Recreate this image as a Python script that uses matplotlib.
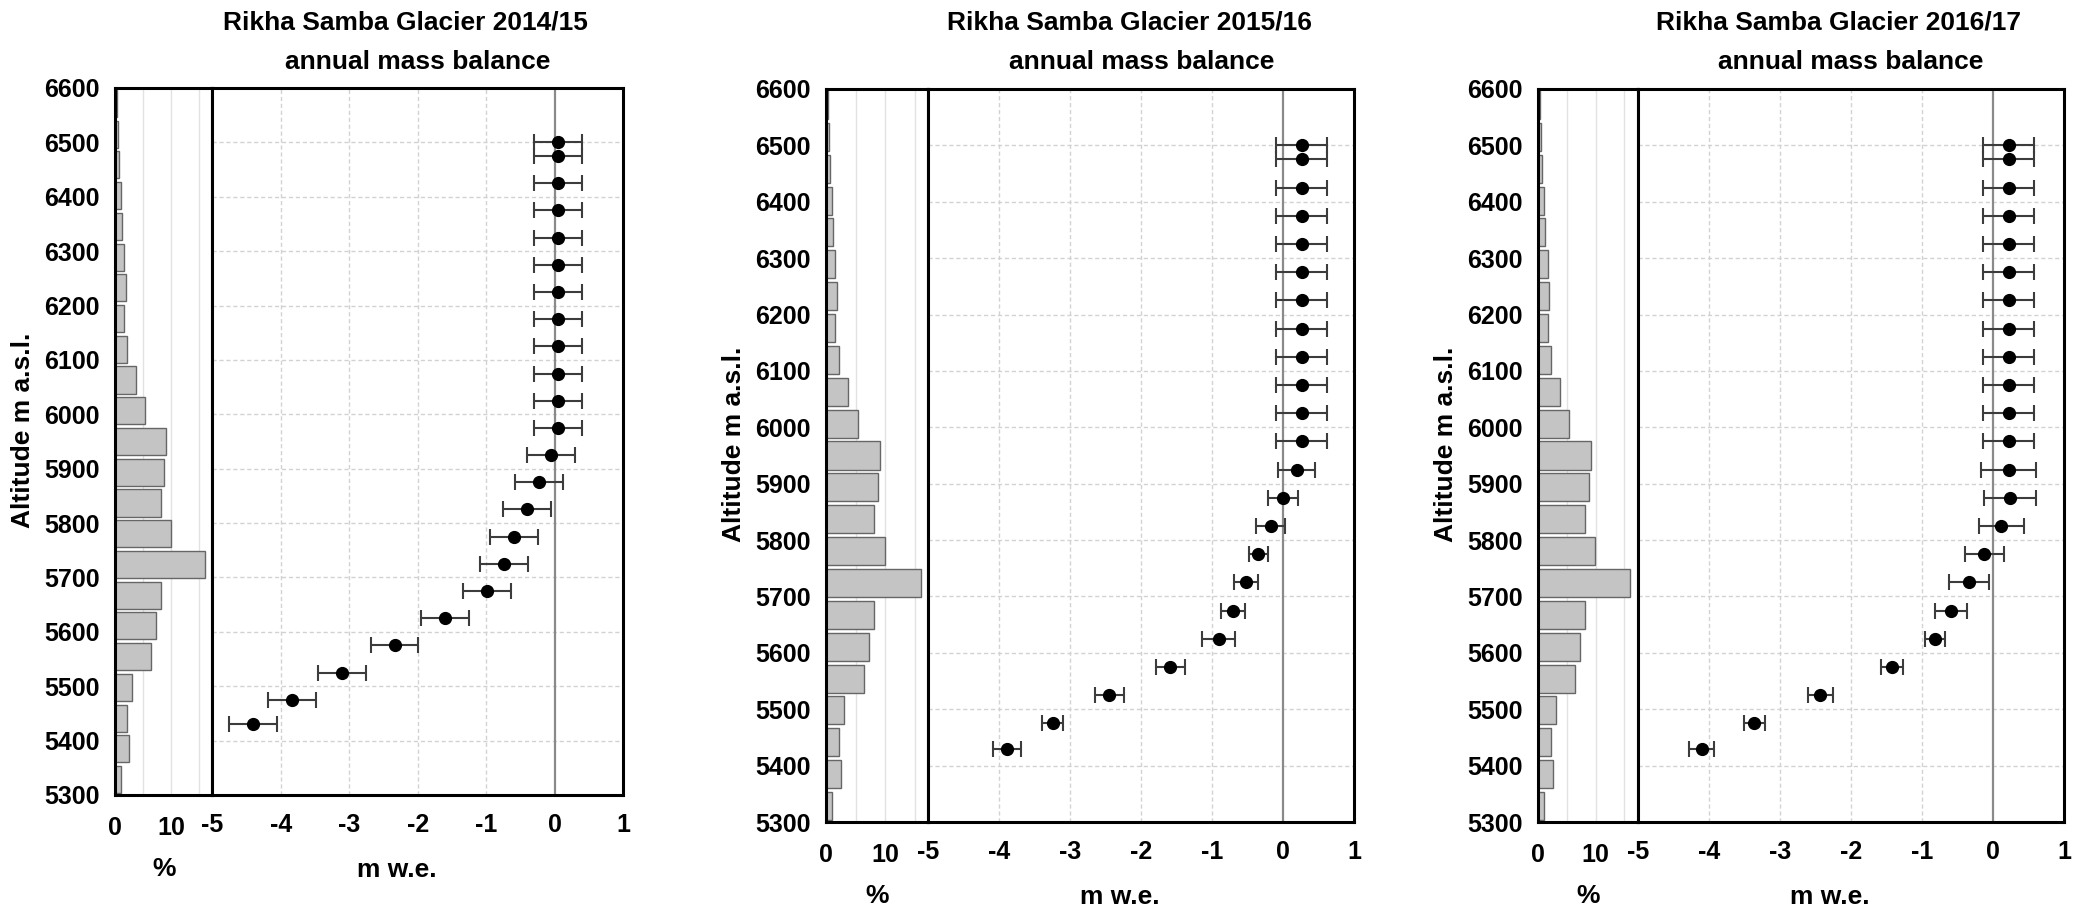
import numpy as np
import matplotlib
matplotlib.use("Agg")
import matplotlib.pyplot as plt

plt.rcParams['font.family'] = ['Liberation Sans', 'DejaVu Sans']
plt.rcParams['font.weight'] = 'bold'
plt.rcParams['axes.unicode_minus'] = False

# ------------------------------------------------------------
# data
# ------------------------------------------------------------
years = ["2014/15", "2015/16", "2016/17"]

# altitude of the mass balance points (m a.s.l.)
altitude = [6500, 6475, 6425, 6375, 6325, 6275, 6225, 6175, 6125, 6075, 6025,
            5975, 5925, 5875, 5825, 5775, 5725, 5675, 5625, 5575, 5525, 5475, 5430]

mb_1415 = [0.04] * 12 + [-0.05, -0.23, -0.40, -0.60, -0.74, -0.99, -1.60,
                         -2.34, -3.10, -3.83, -4.41]
err_1415 = [0.35] * 23

mb_1516 = [0.26] * 12 + [0.19, 0.0, -0.18, -0.35, -0.52, -0.71, -0.91,
                         -1.59, -2.45, -3.25, -3.89]
err_1516 = [0.36] * 12 + [0.26, 0.21, 0.21, 0.13, 0.17, 0.17, 0.23,
                          0.21, 0.20, 0.15, 0.20]

mb_1617 = [0.22] * 12 + [0.22, 0.24, 0.12, -0.12, -0.34, -0.59, -0.81,
                         -1.42, -2.43, -3.36, -4.10]
err_1617 = [0.36] * 12 + [0.39, 0.36, 0.32, 0.28, 0.28, 0.23, 0.14,
                          0.16, 0.18, 0.15, 0.18]

# area-altitude distribution (%), bottom band to top band
hypsometry = [1.0, 2.5, 2.2, 3.0, 6.4, 7.3, 8.2, 16.0, 9.9, 8.2, 8.8, 9.1,
              5.4, 3.7, 2.2, 1.6, 1.9, 1.6, 1.2, 1.0, 0.7, 0.5, 0.3]

mass_balance = [mb_1415, mb_1516, mb_1617]
errors = [err_1415, err_1516, err_1617]

# ------------------------------------------------------------
# layout (pixels of a 2093 x 915 canvas)
# ------------------------------------------------------------
W, H = 2093, 915
# hist left, divider, mass right, top, bottom
panels = [
  (115, 212.3, 623.3, 88, 795),
  (826, 928.3, 1354.3, 89, 822),
  (1538.4, 1637.7, 2064, 89, 822),
]

fig = plt.figure(figsize=(W / 100, H / 100), dpi=100)

def rect(x0, x1, y0, y1):
  return [x0 / W, 1 - y1 / H, (x1 - x0) / W, (y1 - y0) / H]

ALT_MIN, ALT_MAX = 5300, 6600
n_bands = len(hypsometry)
band = (ALT_MAX - ALT_MIN) / n_bands
band_centers = ALT_MIN + (np.arange(n_bands) + 0.5) * band

TICK_FS = 18
LABEL_FS = 19
SPINE_W = 2.2

for k, (xl, xd, xr, yt, yb) in enumerate(panels):
  ax_h = fig.add_axes(rect(xl, xd, yt, yb))
  ax_m = fig.add_axes(rect(xd, xr, yt, yb))

  # ---------------- hypsometry ----------------
  for g in (5, 10, 15):
    ax_h.axvline(g, color='#e2e2e2', lw=1.0, zorder=0)
  ax_h.barh(band_centers, hypsometry, height=band * 0.88,
            color='#c4c4c4', edgecolor='#666666', linewidth=1.0, zorder=2)
  ax_h.set_xlim(0, 17.3)
  ax_h.set_ylim(ALT_MIN, ALT_MAX)
  ax_h.set_yticks(range(ALT_MIN, ALT_MAX + 1, 100))
  ax_h.set_xticks([0, 10])
  ax_h.tick_params(axis='y', length=0, pad=11, labelsize=TICK_FS)
  ax_h.tick_params(axis='x', length=0, pad=15, labelsize=TICK_FS)

  # ---------------- mass balance ----------------
  for g in (-4, -3, -2, -1):
    ax_m.axvline(g, color='#d2d2d2', lw=1.0, ls=(0, (3, 2)), zorder=0)
  for g in range(5400, 6600, 100):
    ax_m.axhline(g, color='#d2d2d2', lw=1.0, ls=(0, (3, 2)), zorder=0)
  ax_m.axvline(0, color='#8a8a8a', lw=1.6, zorder=1)

  ax_m.errorbar(mass_balance[k], altitude, xerr=errors[k], fmt='o',
                color='black', markersize=8.5, ecolor='#3c3c3c',
                elinewidth=1.5, capsize=5.5, capthick=1.5, zorder=3)
  ax_m.set_xlim(-5, 1)
  ax_m.set_ylim(ALT_MIN, ALT_MAX)
  ax_m.set_xticks(range(-5, 2))
  ax_m.set_yticks([])
  ax_m.tick_params(axis='x', length=0, pad=13, labelsize=TICK_FS)

  for ax in (ax_h, ax_m):
    for s in ax.spines.values():
      s.set_linewidth(SPINE_W)
      s.set_color('black')
    for lab in ax.get_xticklabels() + ax.get_yticklabels():
      lab.set_fontweight('bold')

  # ---------------- texts ----------------
  mid_m = (xd + xr) / 2
  fig.text((mid_m - 12) / W, 1 - 23 / H, f"Rikha Samba Glacier {years[k]}",
           ha='center', va='center', fontsize=LABEL_FS, fontweight='bold')
  fig.text(mid_m / W, 1 - 62 / H, "annual mass balance",
           ha='center', va='center', fontsize=LABEL_FS, fontweight='bold')
  fig.text((xl - 92) / W, 1 - ((yt + yb) / 2 - 11) / H, "Altitude m a.s.l.",
           rotation=90, ha='center', va='center', fontsize=LABEL_FS,
           fontweight='bold')
  fig.text(((xl + xd) / 2) / W, 1 - (yb + 74) / H, "%",
           ha='center', va='center', fontsize=LABEL_FS, fontweight='bold')
  fig.text((mid_m - 21) / W, 1 - (yb + 75) / H, "m w.e.",
           ha='center', va='center', fontsize=LABEL_FS, fontweight='bold')

fig.savefig("out.png", dpi=100, facecolor='white')
